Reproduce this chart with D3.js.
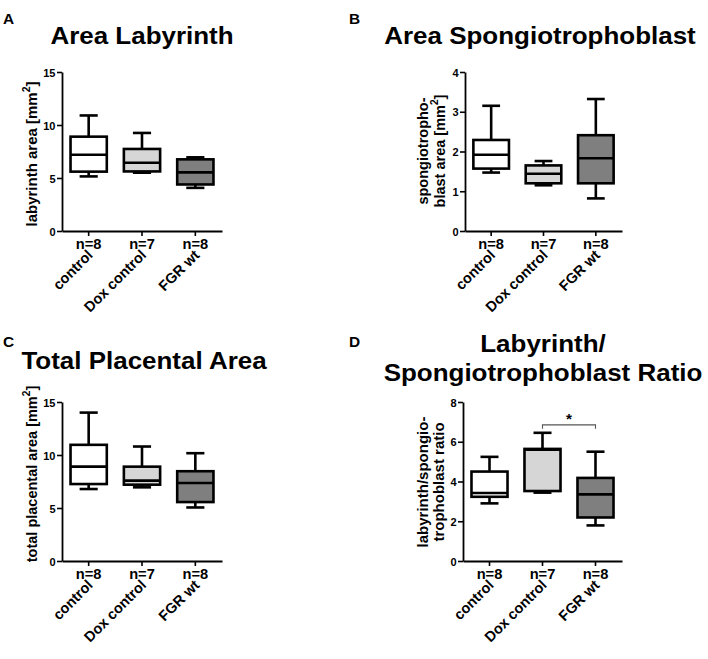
<!DOCTYPE html>
<html><head><meta charset="utf-8">
<script src="https://cdn.jsdelivr.net/npm/d3@7"></script>
<style>
body{margin:0;background:#fff}
text{font-family:"Liberation Sans",Arial,Helvetica,sans-serif;font-weight:bold;fill:#000}
</style></head><body>
<script>
// ---------- data ----------
const categories = ["control", "Dox control", "FGR wt"];
const nLabels = ["n=8", "n=7", "n=8"];
// [min, q1, median, q3, max]
const labyrinthArea = [[5.15, 5.6, 7.2, 8.9, 10.9], [5.5, 5.62, 6.44, 7.74, 9.25], [4.07, 4.39, 5.53, 6.76, 6.95]];
const spongioArea   = [[1.47, 1.57, 1.92, 2.29, 3.15], [1.15, 1.2, 1.44, 1.65, 1.76], [0.82, 1.2, 1.83, 2.41, 3.32]];
const totalArea     = [[6.79, 7.26, 8.9, 10.96, 14.0], [6.95, 7.2, 7.58, 8.9, 10.8], [5.05, 5.56, 7.36, 8.47, 10.17]];
const ratioLabSpo   = [[2.9, 3.23, 3.42, 4.5, 5.24], [3.44, 3.52, 5.6, 5.64, 6.45], [1.79, 2.19, 3.35, 4.18, 5.5]];
const ticksArea = [0, 5, 10, 15];
const ticksSpongio = [0, 1, 2, 3, 4];
const ticksRatio = [0, 2, 4, 6, 8];
const sigPair = ["Dox control", "FGR wt"];
const sigValue = 6.85;

// ---------- styles ----------
const fills = ["#ffffff", "#d6d6d6", "#7f7f7f"];

const W = 708, H = 659;
const svg = d3.select("body").append("svg").attr("width", W).attr("height", H);

function txt(g, s, x, y, size, sx, rot, anchor) {
  return g.append("text")
    .attr("transform", `translate(${x},${y}) rotate(${rot || 0}) scale(${sx},1)`)
    .attr("font-size", size)
    .attr("text-anchor", anchor || "middle")
    .text(s);
}

const panels = [
  { letter: "A", lx: 3, ly: 24, title: ["Area Labyrinth"], tx: 142, ty: [43.5],
    data: labyrinthArea, max: 15, ticks: ticksArea, x0: 62, x1: 222, y0: 72, y1: 231,
    ylab: [["labyrinth area [mm", "2", "]"]], ylx: [37], yly: 154, ylSize: 15, ylSx: 1 },
  { letter: "B", lx: 349, ly: 24, title: ["Area Spongiotrophoblast"], tx: 540, ty: [43.5],
    data: spongioArea, max: 4, ticks: ticksSpongio, x0: 465, x1: 622, y0: 72, y1: 231,
    ylab: [["spongiotropho-"], ["blast area [mm", "2", "]"]], ylx: [427.5, 444.5], yly: 151, ylSize: 14.5, ylSx: 1 },
  { letter: "C", lx: 3, ly: 347, title: ["Total Placental Area"], tx: 144, ty: [368.5],
    data: totalArea, max: 15, ticks: ticksArea, x0: 62, x1: 222, y0: 402, y1: 561,
    ylab: [["total placental area [mm", "2", "]"]], ylx: [37], yly: 474, ylSize: 14.5, ylSx: 1 },
  { letter: "D", lx: 349, ly: 347, title: ["Labyrinth/", "Spongiotrophoblast Ratio"], tx: 543, ty: [352, 380.5],
    data: ratioLabSpo, max: 8, ticks: ticksRatio, x0: 463, x1: 622, y0: 402, y1: 561,
    ylab: [["labyrinth/spongio-"], ["trophoblast ratio"]], ylx: [427.5, 444], yly: 482, ylSize: 15, ylSx: 1, sig: true }
];

panels.forEach(p => {
  const g = svg.append("g");
  const x = d3.scaleBand().domain(categories).range([p.x0, p.x1]);
  const y = d3.scaleLinear().domain([0, p.max]).range([p.y1, p.y0]);
  const cx = c => x(c) + x.bandwidth() / 2;
  const bw = x.bandwidth() * 0.68;

  // panel letter and title
  txt(g, p.letter, p.lx, p.ly, 14, 1.1, 0, "start");
  p.title.forEach((t, i) => txt(g, t, p.tx, p.ty[i], 24.5, 1.06, 0, "middle"));

  // y axis
  const ya = g.append("g").attr("transform", `translate(${p.x0},0)`)
    .call(d3.axisLeft(y).tickValues(p.ticks).tickFormat(d3.format("d"))
      .tickSize(5).tickSizeOuter(0).tickPadding(2));
  ya.select(".domain").attr("stroke", "#000").attr("stroke-width", 1.8);
  ya.selectAll(".tick line").attr("stroke", "#000").attr("stroke-width", 1.6);
  ya.selectAll(".tick text")
    .attr("x", null).attr("dy", null).attr("y", null)
    .attr("font-size", 11).attr("text-anchor", "end")
    .attr("transform", "translate(-6.5,4)")
    .attr("fill", "#000");

  // x axis
  const xa = g.append("g").attr("transform", `translate(0,${p.y1})`)
    .call(d3.axisBottom(x).tickSize(5).tickSizeOuter(0).tickFormat(""));
  xa.select(".domain").attr("stroke", "#000").attr("stroke-width", 1.8);
  xa.selectAll(".tick line").attr("stroke", "#000").attr("stroke-width", 1.6);

  // n labels and category labels
  categories.forEach((c, i) => {
    txt(g, nLabels[i], cx(c), p.y1 + 17.5, 14, 1.05, 0, "middle");
    txt(g, c, cx(c) + 5, p.y1 + 25, 14.5, 1, -45, "end");
  });

  // y label
  p.ylab.forEach((parts, li) => {
    const t = g.append("text")
      .attr("transform", `translate(${p.ylx[li]},${p.yly}) rotate(-90) scale(${p.ylSx},1)`)
      .attr("font-size", p.ylSize).attr("text-anchor", "middle");
    t.append("tspan").text(parts[0]);
    if (parts.length > 1) {
      t.append("tspan").attr("font-size", p.ylSize * 0.7).attr("dy", -p.ylSize * 0.45).text(parts[1]);
      t.append("tspan").attr("dy", p.ylSize * 0.45).text(parts[2]);
    }
  });

  // boxes
  p.data.forEach((d, i) => {
    const c = cx(categories[i]);
    const [mn, q1, md, q3, mx] = d;
    const bg = g.append("g").attr("stroke", "#000").attr("stroke-width", 2.6);
    bg.append("line").attr("x1", c).attr("x2", c).attr("y1", y(q3)).attr("y2", y(mx));
    bg.append("line").attr("x1", c).attr("x2", c).attr("y1", y(q1)).attr("y2", y(mn));
    bg.append("line").attr("x1", c - bw / 4).attr("x2", c + bw / 4).attr("y1", y(mx)).attr("y2", y(mx));
    bg.append("line").attr("x1", c - bw / 4).attr("x2", c + bw / 4).attr("y1", y(mn)).attr("y2", y(mn));
    bg.append("rect").attr("x", c - bw / 2).attr("width", bw)
      .attr("y", y(q3)).attr("height", y(q1) - y(q3)).attr("fill", fills[i]);
    bg.append("line").attr("x1", c - bw / 2).attr("x2", c + bw / 2).attr("y1", y(md)).attr("y2", y(md));
  });

  // significance
  if (p.sig) {
    const a = cx(sigPair[0]), b = cx(sigPair[1]);
    const yy = y(sigValue);
    g.append("path")
      .attr("d", `M${a},${yy + 4}V${yy}H${b}V${yy + 4}`)
      .attr("fill", "none").attr("stroke", "#555").attr("stroke-width", 1.1);
    txt(g, "*", (a + b) / 2, yy - 1, 14, 1.1, 0, "middle");
  }
});
</script>
</body></html>
